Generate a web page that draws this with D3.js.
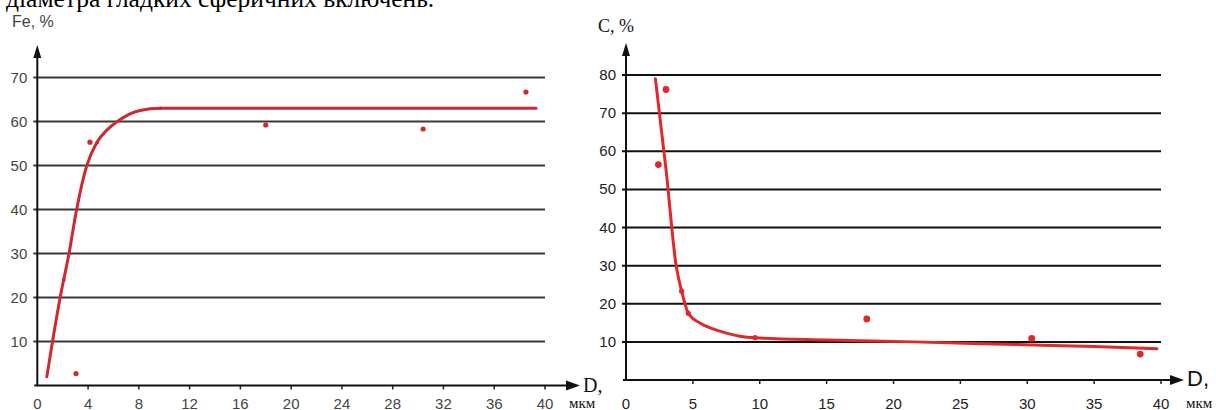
<!DOCTYPE html>
<html>
<head>
<meta charset="utf-8">
<script src="https://cdn.jsdelivr.net/npm/d3@7"></script>
<style>
  body { margin: 0; background: #fff; }
  svg { display: block; }
</style>
</head>
<body>
<svg id="chart"></svg>
<script>
  // DATA - left panel (Fe)
  const feTicksX = [0, 4, 8, 12, 16, 20, 24, 28, 32, 36, 40];
  const feTicksY = [10, 20, 30, 40, 50, 60, 70];
  const feCurve = [
    [0.75, 2], [1.2, 10], [1.8, 20], [2.5, 30], [3.1, 40], [3.9, 50],
    [4.7, 55.3], [5.5, 58.1], [6.3, 60], [8.1, 62.5], [9.7, 63], [39.3, 63],
  ];
  const feCurveMarks = [[2.1, 24], [4.73, 55.2], [9.7, 63]];
  const fePoints = [[3.05, 2.7], [4.15, 55.3], [18, 59.2], [30.4, 58.3], [38.5, 66.7]];

  // DATA - right panel (C)
  const cTicksX = [0, 5, 10, 15, 20, 25, 30, 35, 40];
  const cTicksY = [10, 20, 30, 40, 50, 60, 70, 80];
  const cCurve = [
    [2.2, 79], [3.0, 55], [3.75, 30], [4.16, 23.3], [4.66, 17.5], [5.5, 15.0],
    [6.5, 13.4], [7.5, 12.3], [8.5, 11.5], [9.7, 11.05], [15, 10.5], [21.5, 10],
    [29.2, 9.3], [35, 8.8], [39.7, 8.2],
  ];
  const cCurveMarks = [[4.16, 23.3], [4.66, 17.5], [9.65, 11.1]];
  const cPoints = [[2.42, 56.5], [2.99, 76.2], [18, 16], [30.33, 10.9], [38.45, 6.8]];

  const dims = { width: 1216, height: 410 };

  const svg = d3.select("#chart")
    .attr("width", dims.width)
    .attr("height", dims.height);

  // partially visible line of text above the charts
  svg.append("text")
    .attr("x", 6)
    .attr("y", 7)
    .attr("font-family", "Liberation Serif, Times New Roman, serif")
    .attr("font-size", 25.5)
    .attr("fill", "#000")
    .text("діаметра гладких сферичних включень.");

  function drawPanel(p) {
    const x = d3.scaleLinear().domain([0, 40]).range(p.xRange);
    const y = d3.scaleLinear().domain(p.yDomain).range(p.yRange);
    const g = svg.append("g");
    const x0 = x(0), y0 = y(0);

    // gridlines
    g.selectAll("line.grid")
      .data(p.ticksY)
      .join("line")
      .attr("class", "grid")
      .attr("x1", x0 - 4)
      .attr("x2", x(40))
      .attr("y1", (d) => y(d))
      .attr("y2", (d) => y(d))
      .attr("stroke", p.gridColor)
      .attr("stroke-width", 2);

    // y labels
    g.selectAll("text.ylab")
      .data(p.ticksY)
      .join("text")
      .attr("class", "ylab")
      .attr("x", x0 - 10)
      .attr("y", (d) => y(d) + 5)
      .attr("text-anchor", "end")
      .attr("font-family", p.labelFont)
      .attr("font-size", 15)
      .attr("fill", p.labelColor)
      .text((d) => d);

    // x ticks + labels
    g.selectAll("line.xtick")
      .data(p.ticksX.slice(1))
      .join("line")
      .attr("class", "xtick")
      .attr("x1", (d) => x(d))
      .attr("x2", (d) => x(d))
      .attr("y1", y0)
      .attr("y2", y0 + 4)
      .attr("stroke", "#222")
      .attr("stroke-width", 1.5);

    g.selectAll("text.xlab")
      .data(p.ticksX)
      .join("text")
      .attr("class", "xlab")
      .attr("x", (d) => x(d))
      .attr("y", p.xLabelY)
      .attr("text-anchor", "middle")
      .attr("font-family", p.labelFont)
      .attr("font-size", 15)
      .attr("fill", p.labelColor)
      .text((d) => d);

    // axes with arrows
    g.append("line")
      .attr("x1", x0).attr("x2", x0)
      .attr("y1", y0).attr("y2", p.arrowTop + 10)
      .attr("stroke", "#111").attr("stroke-width", 2);
    g.append("path")
      .attr("d", `M${x0},${p.arrowTop} L${x0 - 4},${p.arrowTop + 13} L${x0 + 4},${p.arrowTop + 13} Z`)
      .attr("fill", "#111");
    g.append("line")
      .attr("x1", x0 - 3).attr("x2", p.arrowRight - 10)
      .attr("y1", y0).attr("y2", y0)
      .attr("stroke", "#111").attr("stroke-width", 2);
    g.append("path")
      .attr("d", `M${p.arrowRight},${y0} L${p.arrowRight - 14},${y0 - 5} L${p.arrowRight - 14},${y0 + 5} Z`)
      .attr("fill", "#111");

    // axis titles
    g.append("text")
      .attr("x", p.yTitle.x).attr("y", p.yTitle.y)
      .attr("font-family", p.yTitle.font)
      .attr("font-size", p.yTitle.size)
      .attr("fill", p.yTitle.color)
      .text(p.yTitle.text);
    g.append("text")
      .attr("x", p.arrowRight + 3).attr("y", y0 + 6)
      .attr("font-family", p.dFont)
      .attr("font-size", p.dSize)
      .attr("fill", "#111")
      .text("D,");
    g.append("text")
      .attr("x", p.unitX).attr("y", 408)
      .attr("font-family", "Liberation Serif, Times New Roman, serif")
      .attr("font-size", 15)
      .attr("fill", "#111")
      .text("мкм");

    // fitted curve
    const line = d3.line()
      .x((d) => x(d[0]))
      .y((d) => y(d[1]))
      .curve(d3.curveMonotoneX);
    g.append("path")
      .datum(p.curve)
      .attr("d", line)
      .attr("fill", "none")
      .attr("stroke", p.red)
      .attr("stroke-width", 3)
      .attr("stroke-linecap", "round");

    g.selectAll("circle.mark")
      .data(p.marks)
      .join("circle")
      .attr("class", "mark")
      .attr("cx", (d) => x(d[0]))
      .attr("cy", (d) => y(d[1]))
      .attr("r", p.markR)
      .attr("fill", p.red);

    g.selectAll("circle.pt")
      .data(p.points)
      .join("circle")
      .attr("class", "pt")
      .attr("cx", (d) => x(d[0]))
      .attr("cy", (d) => y(d[1]))
      .attr("r", p.pointR)
      .attr("fill", p.red);
  }

  drawPanel({
    xRange: [37.3, 545],
    yDomain: [0, 70],
    yRange: [385.5, 77.5],
    ticksX: feTicksX,
    ticksY: feTicksY,
    curve: feCurve,
    marks: feCurveMarks,
    points: fePoints,
    gridColor: "#3a3a3a",
    labelFont: "Liberation Sans, Arial, sans-serif",
    labelColor: "#444",
    xLabelY: 409,
    arrowTop: 45,
    arrowRight: 580,
    unitX: 569,
    yTitle: { x: 12, y: 27, text: "Fe, %", font: "Liberation Sans, Arial, sans-serif", size: 16, color: "#444" },
    dFont: "Liberation Serif, Times New Roman, serif",
    dSize: 20,
    red: "#cc2a2e",
    markR: 1.8,
    pointR: 2.6,
  });

  drawPanel({
    xRange: [626, 1161],
    yDomain: [0, 80],
    yRange: [380, 75],
    ticksX: cTicksX,
    ticksY: cTicksY,
    curve: cCurve,
    marks: cCurveMarks,
    points: cPoints,
    gridColor: "#111",
    labelFont: "Liberation Sans, Arial, sans-serif",
    labelColor: "#222",
    xLabelY: 409,
    arrowTop: 43,
    arrowRight: 1184,
    unitX: 1186,
    yTitle: { x: 598, y: 32, text: "C, %", font: "Liberation Serif, Times New Roman, serif", size: 18, color: "#111" },
    dFont: "Liberation Sans, Arial, sans-serif",
    dSize: 22,
    red: "#e0282b",
    markR: 2.6,
    pointR: 3.4,
  });
</script>
</body>
</html>
